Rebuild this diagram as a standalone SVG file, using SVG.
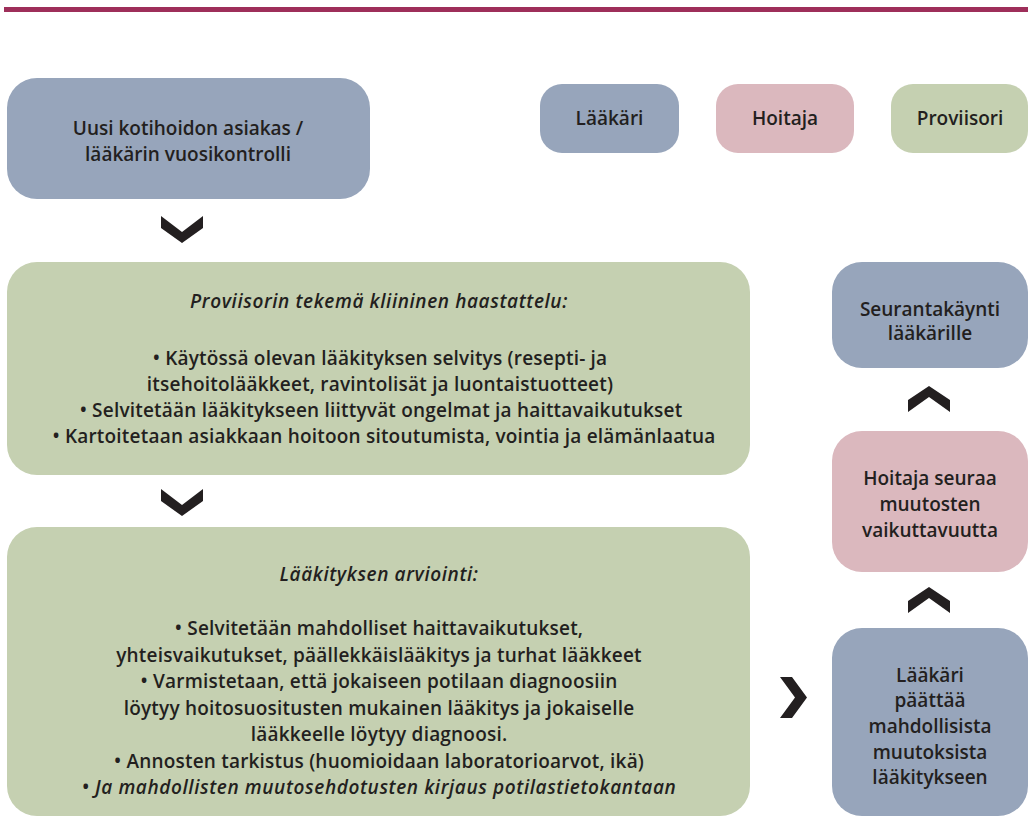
<svg xmlns="http://www.w3.org/2000/svg" width="1028" height="816" viewBox="0 0 1028 816">
<style>
.blue{fill:#97a5bb}
.pink{fill:#dbb8be}
.green{fill:#c5d0b1}
.t{font-family:"Open Sans","Liberation Sans",sans-serif;font-weight:600;font-size:19px;fill:#231f20;text-anchor:middle}
.b{letter-spacing:0.2px}
.i{font-style:italic;letter-spacing:0.6px}
.chev{fill:#231f20}
</style>
<rect x="4" y="7" width="1024" height="5" fill="#9e2f5a"/>
<g id="n-start">
<rect class="blue" x="7" y="78" width="363" height="121" rx="30"/>
<text class="t" x="188" y="135">Uusi kotihoidon asiakas /</text>
<text class="t" x="188" y="161">lääkärin vuosikontrolli</text>
</g>
<g id="legend-laakari">
<rect class="blue" x="540" y="84" width="139" height="69" rx="22"/>
<text class="t" x="609.5" y="125">Lääkäri</text>
</g>
<g id="legend-hoitaja">
<rect class="pink" x="716" y="84" width="138" height="69" rx="22"/>
<text class="t" x="785" y="125">Hoitaja</text>
</g>
<g id="legend-proviisori">
<rect class="green" x="891" y="84" width="137" height="69" rx="22"/>
<text class="t" x="960" y="125">Proviisori</text>
</g>
<g id="n-haastattelu">
<rect class="green" x="7" y="262" width="743" height="213" rx="30"/>
<text class="t i" x="379" y="308">Proviisorin tekemä kliininen haastattelu:</text>
<text class="t b" x="380" y="365">• Käytössä olevan lääkityksen selvitys (resepti- ja</text>
<text class="t b" x="380" y="391">itsehoitolääkkeet, ravintolisät ja luontaistuotteet)</text>
<text class="t b" x="381" y="417">• Selvitetään lääkitykseen liittyvät ongelmat ja haittavaikutukset</text>
<text class="t b" x="384" y="443">• Kartoitetaan asiakkaan hoitoon sitoutumista, vointia ja elämänlaatua</text>
</g>
<g id="n-arviointi">
<rect class="green" x="7" y="527" width="743" height="289" rx="30"/>
<text class="t i" x="379" y="581">Lääkityksen arviointi:</text>
<text class="t b" x="379" y="635">• Selvitetään mahdolliset haittavaikutukset,</text>
<text class="t b" x="379" y="661.5">yhteisvaikutukset, päällekkäislääkitys ja turhat lääkkeet</text>
<text class="t b" x="379" y="688">• Varmistetaan, että jokaiseen potilaan diagnoosiin</text>
<text class="t b" x="379" y="714.5">löytyy hoitosuositusten mukainen lääkitys ja jokaiselle</text>
<text class="t b" x="379" y="741">lääkkeelle löytyy diagnoosi.</text>
<text class="t b" x="379" y="767.5">• Annosten tarkistus (huomioidaan laboratorioarvot, ikä)</text>
<text class="t i" x="379" y="794">• Ja mahdollisten muutosehdotusten kirjaus potilastietokantaan</text>
</g>
<g id="n-paattaa">
<rect class="blue" x="832" y="628" width="196" height="188" rx="30"/>
<text class="t" x="930" y="682">Lääkäri</text>
<text class="t" x="930" y="707">päättää</text>
<text class="t" x="930" y="733">mahdollisista</text>
<text class="t" x="930" y="759">muutoksista</text>
<text class="t" x="930" y="784">lääkitykseen</text>
</g>
<g id="n-hoitaja">
<rect class="pink" x="832" y="431" width="196" height="141" rx="30"/>
<text class="t" x="930" y="485">Hoitaja seuraa</text>
<text class="t" x="930" y="511">muutosten</text>
<text class="t" x="930" y="537">vaikuttavuutta</text>
</g>
<g id="n-seuranta">
<rect class="blue" x="832" y="262" width="196" height="106" rx="30"/>
<text class="t" x="930" y="316">Seurantakäynti</text>
<text class="t" x="930" y="340">lääkärille</text>
</g>
<g id="connectors">
<polygon class="chev" points="161,216 182,232 203,216 203,228 182,243 161,228"/>
<polygon class="chev" points="161,489 182,505 203,489 203,501 182,516 161,501"/>
<polygon class="chev" points="780,677 792,677 807,697.5 792,718 780,718 795,697.5"/>
<polygon class="chev" points="908,613 929,598 950,613 950,601 929,587 908,601"/>
<polygon class="chev" points="908,412 929,397 950,412 950,400 929,386 908,400"/>
</g>
</svg>
